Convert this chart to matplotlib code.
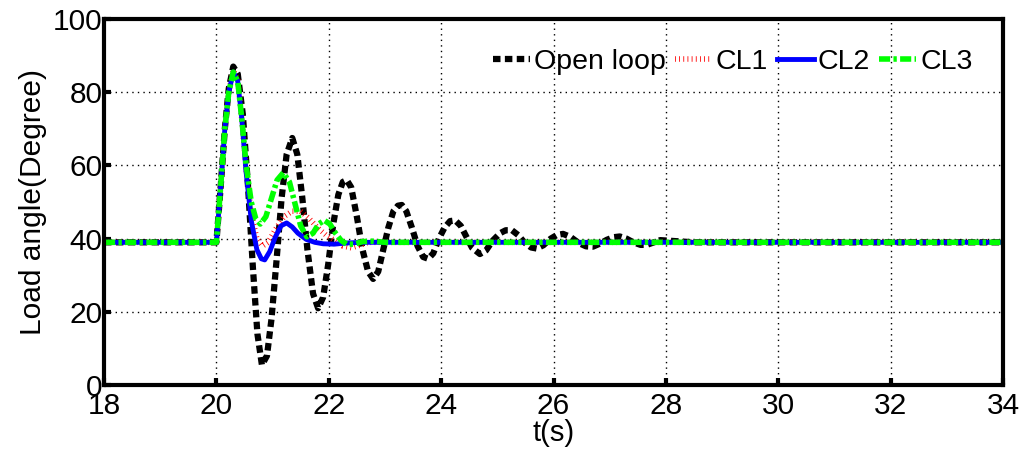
import numpy as np
import matplotlib.pyplot as plt

plt.rcParams['font.family'] = ['Liberation Sans', 'DejaVu Sans']

# Open loop response
t_ol = [18, 20.0, 20.08, 20.15, 20.22, 20.3, 20.38, 20.47, 20.56, 20.65, 20.73, 20.81, 20.9, 20.98,
        21.07, 21.16, 21.25, 21.35, 21.44, 21.53, 21.62, 21.72, 21.81, 21.9, 21.99, 22.08, 22.17,
        22.25, 22.32, 22.4, 22.5, 22.6, 22.7, 22.79, 22.88, 22.97, 23.06, 23.15, 23.23, 23.3, 23.38,
        23.48, 23.58, 23.68, 23.77, 23.86, 23.96, 24.06, 24.16, 24.25, 24.35, 24.45, 24.55, 24.69,
        24.8, 24.92, 25.05, 25.15, 25.26, 25.37, 25.48, 25.6, 25.7, 25.82, 25.95, 26.06, 26.17, 26.3,
        26.45, 26.58, 26.7, 26.82, 26.95, 27.07, 27.18, 27.3, 27.42, 27.55, 27.66, 27.9, 28.2, 28.5, 34]
y_ol = [39, 39, 55, 70, 81, 87, 85, 74, 55, 32, 14, 5.5, 8, 18,
        34, 51, 63, 67.5, 63, 51, 37, 25, 21, 24, 33, 44, 52,
        55.5, 56, 54, 46, 37, 31, 29, 31, 37, 43, 47.5, 49, 49.2, 47.5,
        43, 38, 35, 34.5, 36, 40, 43, 44.8, 45, 43.5, 40.5, 37.5, 35.8,
        36.8, 39.5, 41.5, 42.3, 42.3, 41, 39, 37.6, 37.3, 38.2, 40, 41, 41.3, 40.5,
        38.8, 37.9, 37.8, 38.6, 39.7, 40.4, 40.6, 40, 39, 38.3, 38.3, 39.6, 39.3, 39, 39]

# Closed loop 1
t_cl1 = [18, 20.0, 20.08, 20.15, 20.22, 20.3, 20.38, 20.45, 20.53, 20.62, 20.72, 20.82, 20.92,
         21.05, 21.2, 21.35, 21.5, 21.65, 21.8, 21.95, 22.1, 22.25, 22.4, 22.55, 22.7, 34]
y_cl1 = [39, 39, 55, 70, 80, 86, 83.5, 73, 59, 47, 40, 38, 39,
         42.5, 46, 47.5, 47.5, 45.5, 43, 41, 39.5, 38, 37.5, 38.2, 39, 39]

# Closed loop 2
t_cl2 = [18, 20.0, 20.08, 20.15, 20.22, 20.3, 20.38, 20.45, 20.53, 20.62, 20.72, 20.8, 20.86,
         20.95, 21.05, 21.15, 21.25, 21.35, 21.45, 21.6, 21.75, 21.9, 22.1, 22.3, 22.6, 34]
y_cl2 = [39, 39, 55, 70, 80, 85.5, 83, 73, 58, 45, 37, 34.5, 34.2,
         36.5, 40.5, 43.5, 44.3, 43.2, 41.5, 39.8, 39, 38.6, 38.5, 38.8, 39, 39]

# Closed loop 3
t_cl3 = [18, 20.0, 20.08, 20.15, 20.22, 20.3, 20.38, 20.45, 20.53, 20.62, 20.7, 20.78, 20.88,
         20.98, 21.08, 21.19, 21.3, 21.4, 21.5, 21.61, 21.72, 21.82, 21.92, 22.02, 22.12, 22.22,
         22.32, 22.45, 22.6, 22.8, 23.0, 34]
y_cl3 = [39, 39, 55, 70, 80, 85.5, 83, 73, 60, 50, 45.5, 44, 46,
         51, 56, 58, 55.5, 49.5, 43.5, 40.5, 41.5, 44, 45, 44, 41.5, 39.5,
         38.5, 38.5, 39.2, 39.3, 39, 39]

fig = plt.figure(figsize=(10.25, 4.59), dpi=100)
ax = fig.add_axes([0.1015, 0.161, 0.877, 0.7976])

ax.plot(t_ol, y_ol, color='black', lw=4.5, dashes=(1.2, 0.7), dash_capstyle='butt', label='Open loop')
ax.plot(t_cl1, y_cl1, color='red', lw=4, dashes=(0.15, 0.6), dash_capstyle='butt', label='CL1')
ax.plot(t_cl2, y_cl2, color='blue', lw=3.5, label='CL2')
ax.plot(t_cl3, y_cl3, color='#00ff00', lw=4, dashes=(2.0, 0.6, 0.6, 0.6), dash_capstyle='butt', label='CL3')

ax.set_xlim(18, 34)
ax.set_ylim(0, 100)
ax.set_xticks(np.arange(18, 35, 2))
ax.set_yticks(np.arange(0, 101, 20))
ax.grid(True, color='black', lw=1, linestyle=(0, (1, 3)))
ax.tick_params(direction='in', length=5, width=3, labelsize=21.5)
ax.tick_params(axis='x', pad=5)
ax.tick_params(axis='y', pad=1)
for s in ax.spines.values():
    s.set_linewidth(3)

ax.set_xlabel('t(s)', fontsize=21, labelpad=-1)
ax.set_ylabel('Load angle(Degree)', fontsize=21.5, labelpad=4)

ax.legend(loc='upper right', ncol=4, frameon=False, fontsize=20.5, handlelength=1.3,
          handletextpad=0.15, columnspacing=0.3, borderaxespad=0.2, bbox_to_anchor=(0.985, 0.965))

fig.savefig('out.png', dpi=100)
